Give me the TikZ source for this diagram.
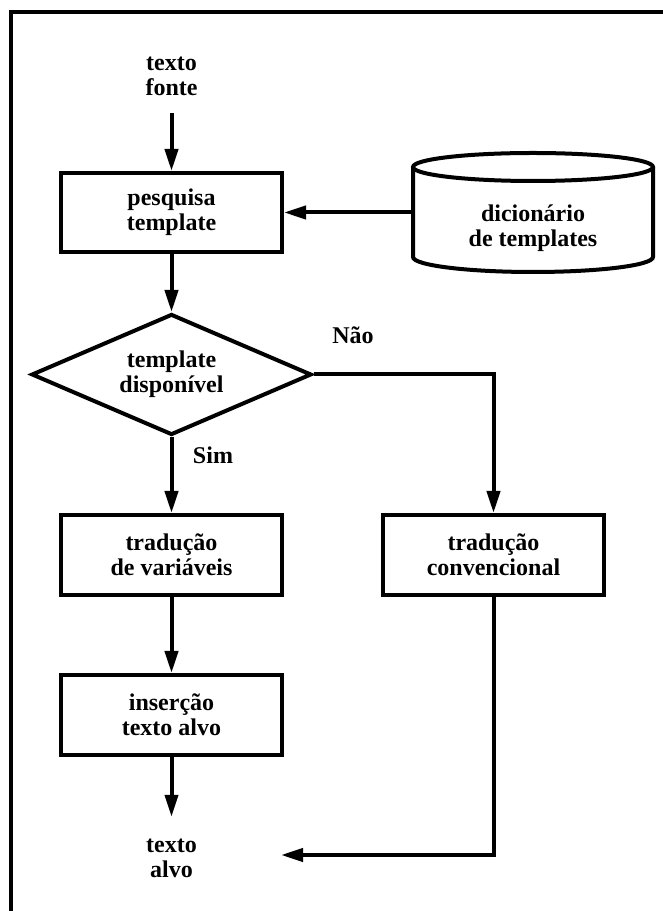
\documentclass[tikz,border=0pt]{standalone}
\usepackage{fontspec}
\setmainfont{Liberation Serif}
\usetikzlibrary{arrows.meta,shapes.geometric,calc}
\begin{document}
\begin{tikzpicture}[x=1pt,y=1pt,
  every node/.style={font=\fontsize{24}{25}\selectfont\bfseries, align=center, inner sep=0pt},
  line/.style={line width=4pt},
  arr/.style={line, -{Triangle[length=22pt,width=13pt]}},
  procbox/.style={draw, line width=4pt, minimum width=221pt, minimum height=80pt},
  decision/.style={draw, diamond, line width=4pt, aspect=2.3, minimum width=280pt, minimum height=121pt},
  terminal/.style={minimum width=100pt}
]
\useasboundingbox (0,0) rectangle (662,911);
% outer frame (left and top edges)
\draw[line] (10.5,-10) -- (10.5,899) -- (680,899);

% process nodes
\node[terminal, minimum height=74pt] (src) at (171.5,835) {texto\\fonte};
\node[procbox, minimum height=79pt] (search) at (171.5,698.5) {pesquisa\\template};
\node[decision] (avail) at (171.5,536.5) {template\\disponível};
\node (nao) at (353,576) {Não};
\node (sim) at (213,456) {Sim};
\node[procbox] (vars) at (171.5,356) {tradução\\de variáveis};
\node[procbox] (conv) at (493.5,356) {tradução\\convencional};
\node[procbox] (insert) at (171.5,196) {inserção\\texto alvo};
\node[terminal, minimum height=83pt] (dst) at (171.5,52.5) {texto\\alvo};
\coordinate (dstin) at (281,56);

% template dictionary (cylinder)
\node (dict) at (533,683) {dicionário\\de templates};
\draw[line] ($(dict.center)+(0,61)$) ellipse[x radius=120, y radius=14];
\draw[line] ($(dict.center)+(-120,61)$) -- ($(dict.center)+(-120,-29)$)
  arc[start angle=180, end angle=360, x radius=120, y radius=15]
  -- ($(dict.center)+(120,61)$);
\coordinate (dictin) at ($(dict.center)+(-120,15.5)$);

% connectors
\draw[arr] (src) -- (search);
\draw[arr] (dictin) -- (search.east);
\draw[arr] (search) -- (avail);
\draw[arr] (avail) -- (vars);
\draw[arr] (avail.east) -| (conv.north);
\draw[arr] (vars) -- (insert);
\draw[arr] (insert) -- (dst);
\draw[arr] (conv.south) |- (dstin);
\end{tikzpicture}
\end{document}
